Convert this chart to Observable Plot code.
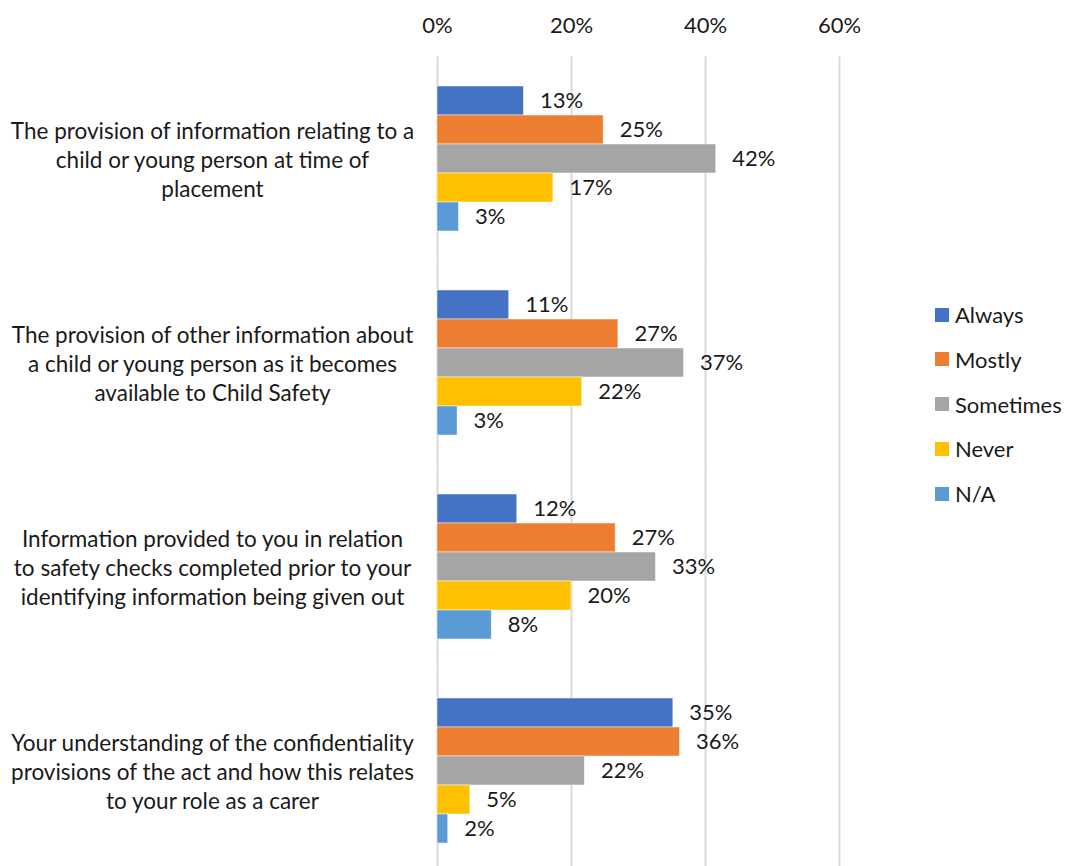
<!DOCTYPE html>
<html>
<head>
<meta charset="utf-8">
<script src="https://cdn.jsdelivr.net/npm/d3@7"></script>
<script src="https://cdn.jsdelivr.net/npm/@observablehq/plot@0.6"></script>
<style>
  html, body { margin: 0; padding: 0; background: #fff; overflow: hidden; }
  #wrap { position: relative; width: 1066px; height: 866px; font-family: Lato, "Open Sans", sans-serif; }
  #legend { position: absolute; left: 935px; top: 301.5px; }
  .li { display: flex; align-items: center; height: 26px; margin-bottom: 18.8px; font-size: 22px; color: #1a1a1a; }
  .sw { width: 14px; height: 14px; margin-right: 6px; }
</style>
</head>
<body>
<div id="wrap"><div id="chart"></div><div id="legend"></div></div>
<script>
const questions = [
  "The provision of information relating to a\nchild or young person at time of\nplacement",
  "The provision of other information about\na child or young person as it becomes\navailable to Child Safety",
  "Information provided to you in relation\nto safety checks completed prior to your\nidentifying information being given out",
  "Your understanding of the confidentiality\nprovisions of the act and how this relates\nto your role as a carer"
];
const series = ["Always", "Mostly", "Sometimes", "Never", "N/A"];
const colors = ["#4472C4", "#ED7D31", "#A5A5A5", "#FFC000", "#5B9BD5"];
// bar lengths (percent), per question, in series order
const values = [
  [12.9, 24.8, 41.6, 17.3, 3.2],
  [10.7, 27.0, 36.8, 21.6, 3.0],
  [11.9, 26.6, 32.6, 20.0, 8.1],
  [35.2, 36.2, 22.0, 4.9, 1.6]
];
// data labels shown in the chart
const labels = [
  ["13%", "25%", "42%", "17%", "3%"],
  ["11%", "27%", "37%", "22%", "3%"],
  ["12%", "27%", "33%", "20%", "8%"],
  ["35%", "36%", "22%", "5%", "2%"]
];
const xTicks = [0, 20, 40, 60];

const data = questions.flatMap((q, i) => series.map((s, j) => ({
  question: q, series: s, value: values[i][j], label: labels[i][j]
})));

const font = "Lato, 'Open Sans', sans-serif";

const plot = Plot.plot({
  width: 1066,
  height: 866,
  marginLeft: 437,
  marginRight: 227,
  marginTop: 56,
  marginBottom: -6.5,
  style: { fontFamily: font, fontSize: "22px", color: "#1a1a1a", background: "#fff" },
  x: { domain: [0, 60], axis: null },
  y: { domain: series, padding: 0, axis: null },
  fy: { domain: questions, paddingInner: 0.27, paddingOuter: 0.134, axis: null },
  color: { domain: series, range: colors },
  marks: [
    Plot.ruleX(xTicks, { x: d => d, stroke: "#d9d9d9", strokeWidth: 2, insetTop: -27.6, insetBottom: -27.6 }),
    Plot.text(xTicks, { x: d => d, fy: () => questions[0], text: d => d + "%", frameAnchor: "top", dy: -58.3, lineAnchor: "middle", fontSize: 22, fill: "#1a1a1a" }),
    Plot.barX(data, { fy: "question", y: "series", x: "value", fill: "series", stroke: "#fff", strokeWidth: 0.8, strokeOpacity: 0.6 }),
    Plot.text(data, { fy: "question", y: "series", x: "value", text: "label", textAnchor: "start", dx: 16, fontSize: 22, fill: "#1a1a1a" }),
    Plot.text(questions, { fy: d => d, text: d => d, frameAnchor: "left", dx: -225, textAnchor: "middle", lineAnchor: "middle", lineHeight: 1.28, fontSize: 22.5, fill: "#1a1a1a" })
  ]
});
document.getElementById("chart").appendChild(plot);

const legend = document.getElementById("legend");
series.forEach((s, i) => {
  const row = document.createElement("div");
  row.className = "li";
  const sw = document.createElement("div");
  sw.className = "sw";
  sw.style.background = colors[i];
  const t = document.createElement("span");
  t.textContent = s;
  row.appendChild(sw);
  row.appendChild(t);
  legend.appendChild(row);
});
</script>
</body>
</html>
